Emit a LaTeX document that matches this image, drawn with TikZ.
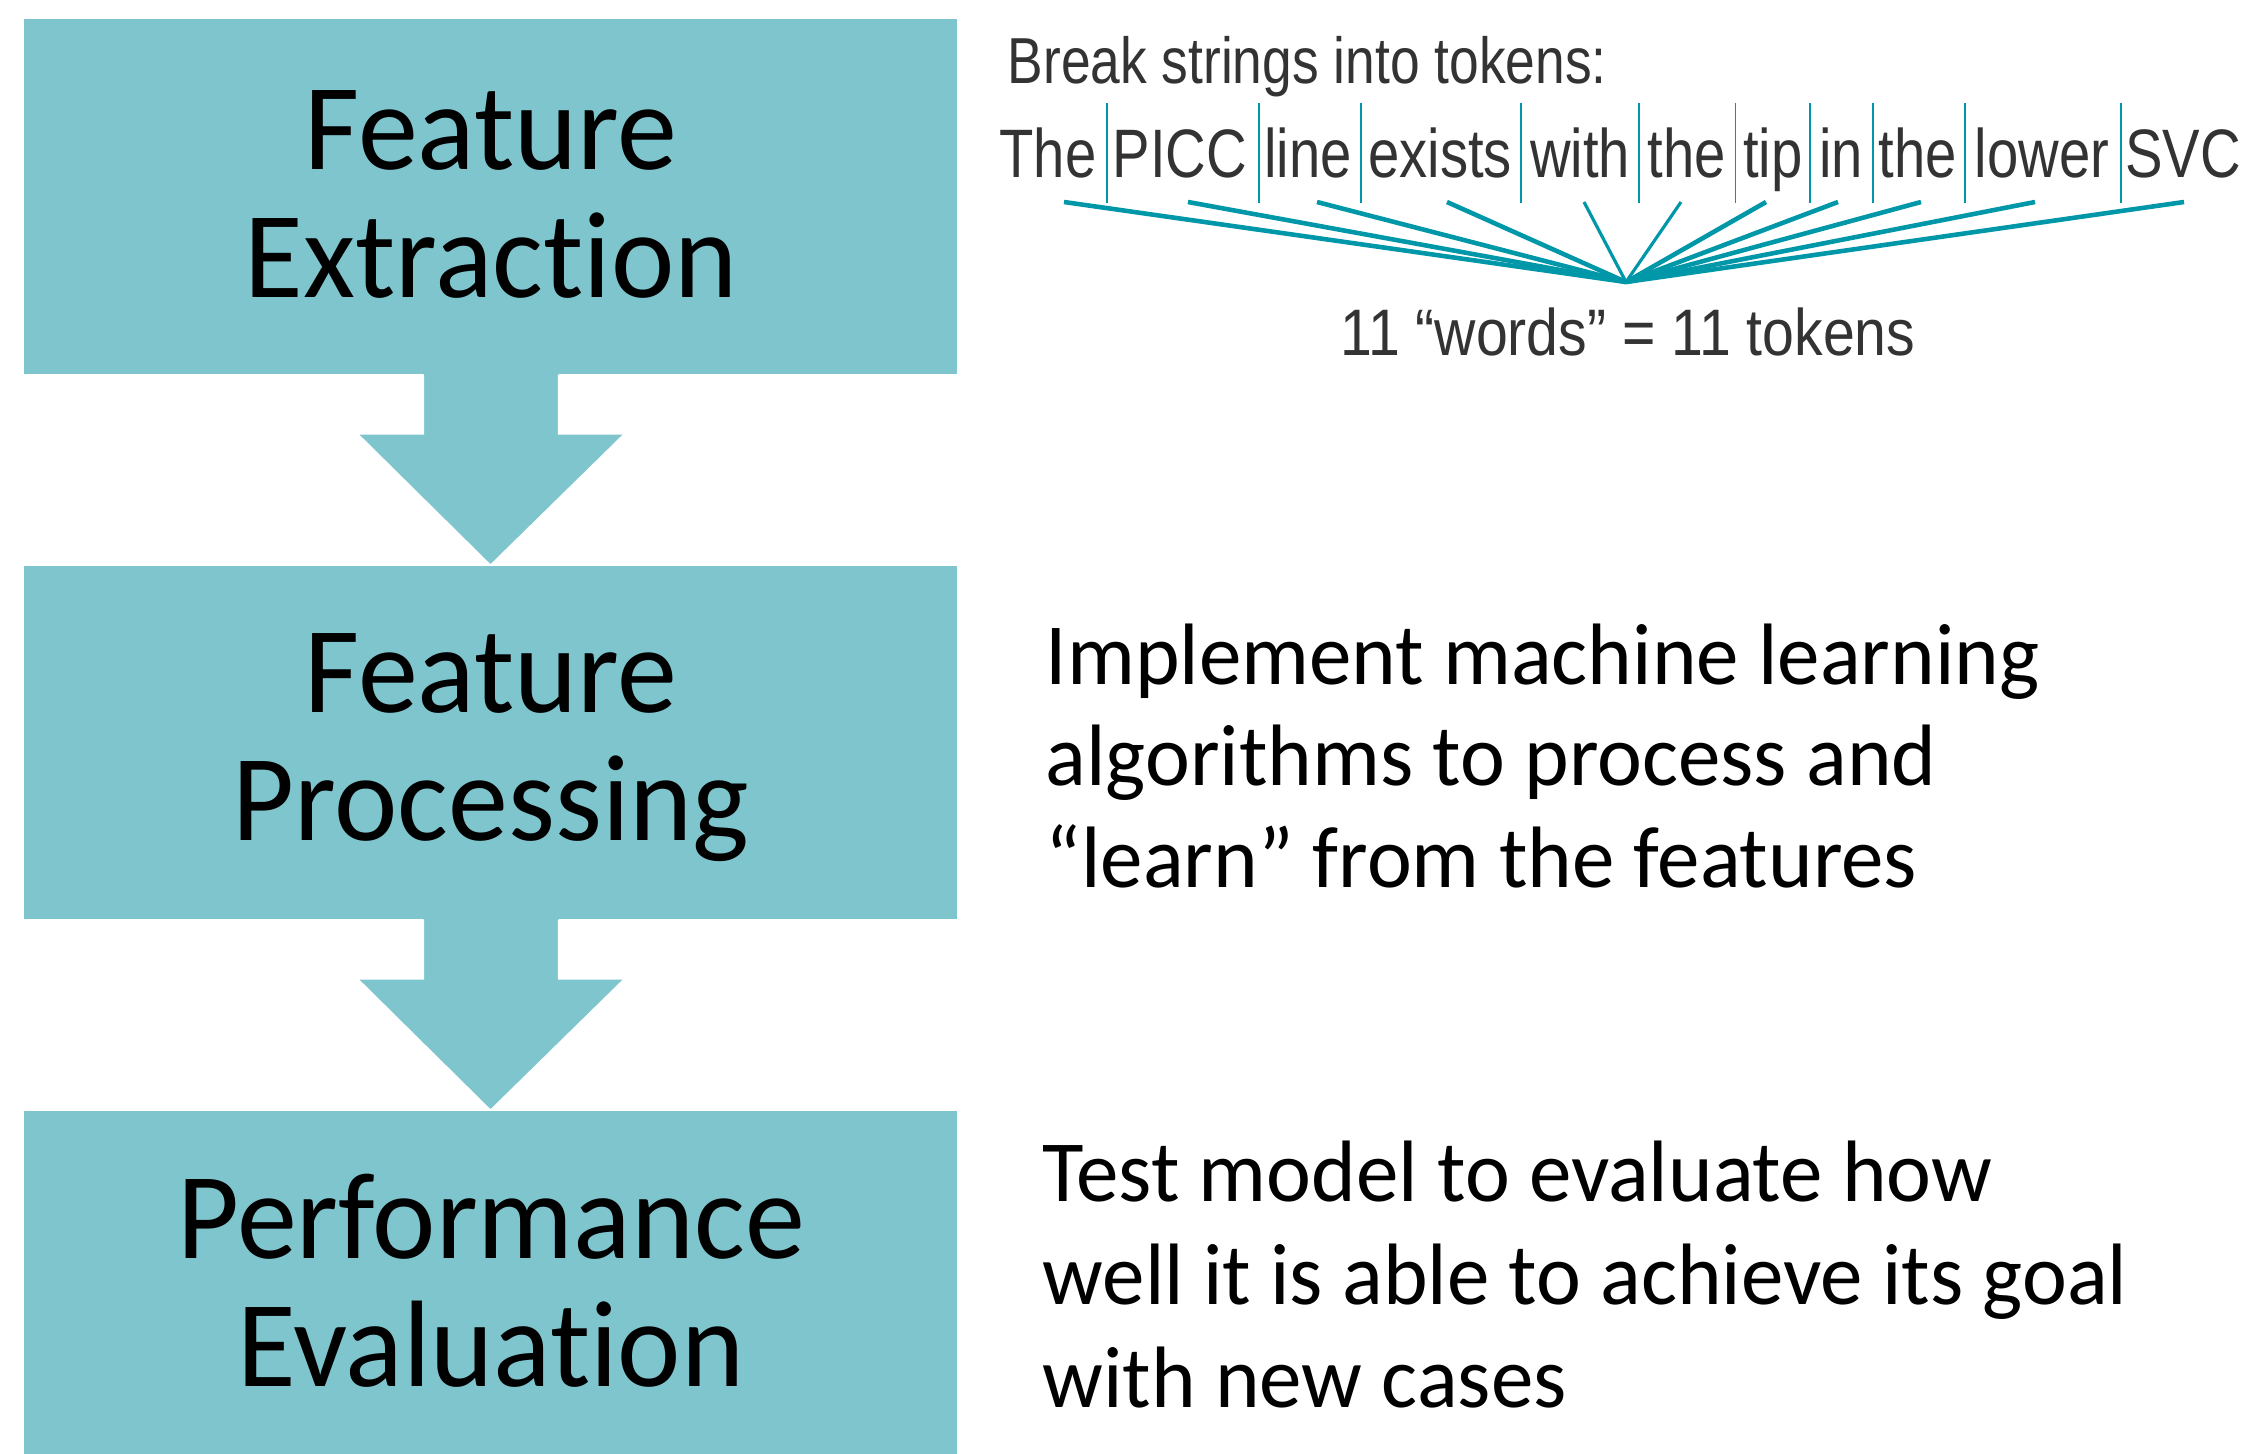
\documentclass[tikz,border=0pt]{standalone}
\usepackage{fontspec}
\setmainfont{Carlito}[Ligatures=NoCommon, FakeStretch=0.975]
\newfontfamily\tokfont{Liberation Sans}[FakeStretch=0.82]
\newfontfamily\cntfont{Liberation Sans}[FakeStretch=0.87]
\usetikzlibrary{calc}
\definecolor{boxc}{HTML}{7EC5CD}
\definecolor{tealline}{HTML}{0097A9}
\definecolor{tokgray}{HTML}{333333}
\begin{document}
\begin{tikzpicture}[x=0.01cm,y=-0.01cm,
  stepbox/.style={rectangle, fill=boxc, inner sep=0pt, minimum width=9.33cm},
  boxtxt/.style={anchor=base, inner sep=0pt, font=\fontsize{35}{42}\selectfont},
  sidetxt/.style={anchor=base west, inner sep=0pt, font=\fontsize{24.8}{29}\selectfont},
  tokword/.style={anchor=base, inner sep=0pt, text=tokgray, font=\tokfont\fontsize{19.5}{22}\selectfont},
  toktxt/.style={inner sep=0pt, text=tokgray, font=\tokfont\fontsize{18.5}{22}\selectfont},
  cnttxt/.style={inner sep=0pt, text=tokgray, font=\cntfont\fontsize{18.7}{22}\selectfont},
  sepline/.style={draw=tealline, line width=0.55pt},
  fanline/.style={draw=tealline, line width=1.3pt},
  flowarrow/.style={fill=boxc}
]
\useasboundingbox (0,0) rectangle (2247,1454);
\fill[white] (0,0) rectangle (2247,1454);

% boxes
\node[stepbox, minimum height=3.55cm] (b1) at (490.5,196.5) {};
\node[stepbox, minimum height=3.53cm] (b2) at (490.5,742.5) {};
\node[stepbox, minimum height=3.43cm] (b3) at (490.5,1282.5) {};

% arrows
\foreach \a/\b in {b1/b2, b2/b3}{
  \fill[flowarrow] ($(\a.south)+(-67,-2)$) -- ($(\a.south)+(-67,59)$) -- ($(\a.south)+(-133,59)$)
    -- (\b.north) -- ($(\a.south)+(134,59)$) -- ($(\a.south)+(68,59)$) -- ($(\a.south)+(68,-2)$) -- cycle;
  \draw[white, line width=0.4pt] ($(\a.south)+(-67,0)$) -- ($(\a.south)+(-67,59)$) -- ($(\a.south)+(-133,59)$)
    -- (\b.north) -- ($(\a.south)+(134,59)$) -- ($(\a.south)+(68,59)$) -- ($(\a.south)+(68,0)$);
}

% box texts
\node[boxtxt] (t1a) at (491,169) {Feature};
\node[boxtxt] (t1b) at (491,297) {Extraction};
\node[boxtxt] (t2a) at (491,712) {Feature};
\node[boxtxt] (t2b) at (491,840) {Processing};
\node[boxtxt] (t3a) at (491,1258) {Performance};
\node[boxtxt] (t3b) at (491,1386) {Evaluation};

% side texts
\node[sidetxt] (s1) at (1045,684) {Implement machine learning};
\node[sidetxt] (s2) at (1045,785) {algorithms to process and};
\node[sidetxt] (s3) at (1045,887) {“learn” from the features};
\node[sidetxt] (s4) at (1042,1201) {Test model to evaluate how};
\node[sidetxt] (s5) at (1042,1304) {well it is able to achieve its goal};
\node[sidetxt] (s6) at (1042,1407) {with new cases};

% tokens
\node[toktxt, anchor=base west] (brk) at (1007,83) {Break strings into tokens:};
\node[tokword] (w1) at (1048,177) {The};
\node[tokword] (w2) at (1180,177) {PICC};
\node[tokword] (w3) at (1308,177) {line};
\node[tokword] (w4) at (1440,177) {exists};
\node[tokword] (w5) at (1580,177) {with};
\node[tokword] (w6) at (1687,177) {the};
\node[tokword] (w7) at (1773,177) {tip};
\node[tokword] (w8) at (1841,177) {in};
\node[tokword] (w9) at (1918,177) {the};
\node[tokword] (w10) at (2042,177) {lower};
\node[tokword] (w11) at (2183,177) {SVC};

\foreach \x in {1107,1259,1361,1521,1639,1735.5,1810,1873,1965,2121}{
  \draw[sepline] (\x,103) -- (\x,203);
}

\coordinate (hub) at (1626,282);
\foreach \i/\x in {1/1064,2/1188,3/1317,4/1447,5/1584,6/1681,7/1766,8/1838,9/1921,10/2035,11/2184}{
  \coordinate (f\i) at (\x,202);
}
\foreach \i in {1,2,3,4,7,8,9,10,11}{
  \draw[fanline] (f\i) -- (hub);
}
\draw[fanline, line width=0.9pt] (f5) -- (hub);
\draw[fanline, line width=0.9pt] (f6) -- (hub);

\node[cnttxt, anchor=base] (cnt) at (1628,355) {11 “words” = 11 tokens};
\end{tikzpicture}
\end{document}
